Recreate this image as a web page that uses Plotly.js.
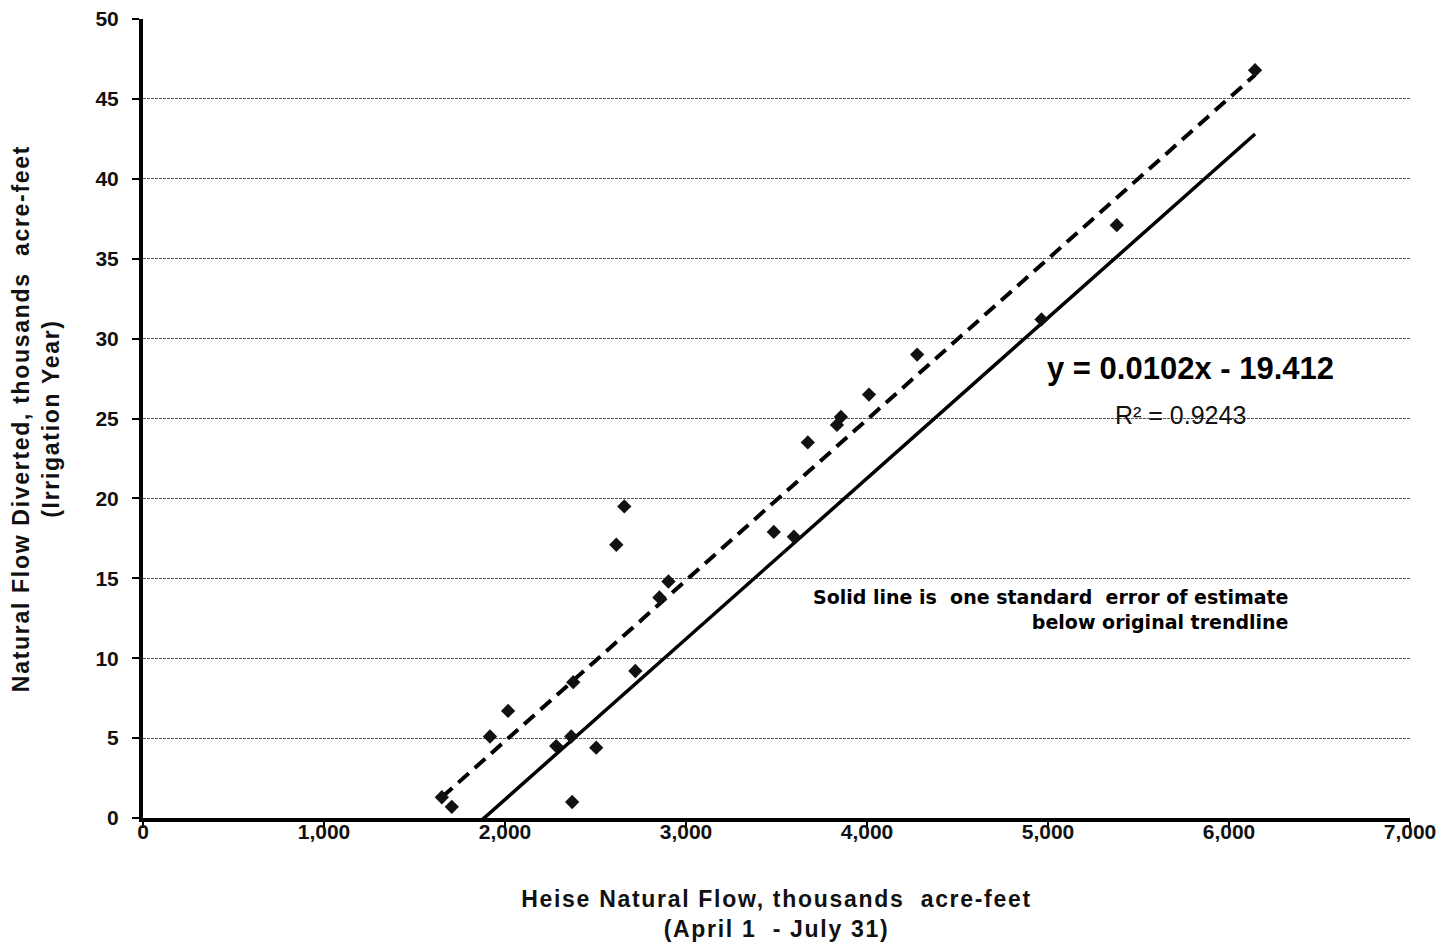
<!DOCTYPE html>
<html>
<head>
<meta charset="utf-8">
<script src="https://cdn.plot.ly/plotly-3.0.1.min.js"></script>
<style>
html,body{margin:0;padding:0;background:#fff;}
#chart{width:1448px;height:949px;}
text.xtitle, text.ytitle {letter-spacing: 1.7px;}
</style>
</head>
<body>
<div id="chart"></div>
<script>
// Observed data: Heise natural flow (x) vs natural flow diverted (y)
const heiseFlow = [1651, 1706, 1917, 2017, 2283, 2366, 2377, 2371, 2504, 2615, 2659, 2720, 2853, 2903, 3485, 3596, 3673, 3834, 3856, 4011, 4277, 4964, 5380, 6144];
const flowDiverted = [1.3, 0.7, 5.1, 6.7, 4.5, 5.1, 8.5, 1.0, 4.4, 17.1, 19.5, 9.2, 13.8, 14.8, 17.9, 17.6, 23.5, 24.6, 25.1, 26.5, 29.0, 31.2, 37.1, 46.8];

// Original trendline (dashed) endpoints
const trendX = [1651, 6144];
const trendY = [1.3, 46.5];
// One standard error below trendline (solid)
const lowerX = [1651, 6144];
const lowerY = [-2.35, 42.8];

const xTicks = [0, 1000, 2000, 3000, 4000, 5000, 6000, 7000];
const yTicks = [0, 5, 10, 15, 20, 25, 30, 35, 40, 45, 50];

const FONT = 'Liberation Sans, Arial, sans-serif';

const traces = [
  {x: trendX, y: trendY, mode: 'lines', type: 'scatter',
   line: {color: '#000', width: 4, dash: '14px,8px'}, hoverinfo: 'skip'},
  {x: lowerX, y: lowerY, mode: 'lines', type: 'scatter',
   line: {color: '#000', width: 3.5}, hoverinfo: 'skip'},
  {x: heiseFlow, y: flowDiverted, mode: 'markers', type: 'scatter',
   marker: {symbol: 'diamond', size: 11, color: '#111'}}
];

const layout = {
  width: 1448, height: 949,
  margin: {l: 143, r: 38, t: 19, b: 131},
  paper_bgcolor: '#fff', plot_bgcolor: '#fff',
  showlegend: false,
  font: {family: FONT, color: '#000', size: 18},
  xaxis: {
    range: [0, 7000], tickvals: xTicks, tickformat: ',d',
    showgrid: false, zeroline: false,
    showline: true, linecolor: '#000', linewidth: 4,
    ticks: 'outside', ticklen: 6, tickwidth: 2, tickcolor: '#000',
    tickfont: {family: FONT, size: 21, color: '#111', weight: 'bold'},
    ticklabelstandoff: -14,
    title: {text: 'Heise Natural Flow, thousands  acre-feet<br>(April 1  - July 31)',
            font: {family: FONT, size: 23, color: '#111', weight: 'bold'}, standoff: 50}
  },
  yaxis: {
    range: [0, 50], tickvals: yTicks,
    showgrid: true, gridcolor: '#555', gridwidth: 1, griddash: '3px,1px',
    zeroline: false,
    showline: true, linecolor: '#000', linewidth: 4,
    ticks: 'outside', ticklen: 7, tickwidth: 2, tickcolor: '#000',
    tickfont: {family: FONT, size: 21, color: '#111', weight: 'bold'},
    ticklabelstandoff: 9,
    title: {text: 'Natural Flow Diverted, thousands  acre-feet<br>(Irrigation Year)',
            font: {family: FONT, size: 23, color: '#111', weight: 'bold'}, standoff: 30}
  },
  annotations: [
    {x: 5790, y: 28.15, xref: 'x', yref: 'y', showarrow: false,
     text: '<b>y = 0.0102x - 19.412</b>', font: {family: FONT, size: 31, color: '#000'}},
    {x: 5730, y: 25.2, xref: 'x', yref: 'y', showarrow: false,
     text: 'R² = 0.9243', font: {family: FONT, size: 25, color: '#111'}},
    {x: 6343, y: 13.05, xref: 'x', yref: 'y', showarrow: false, xanchor: 'right', align: 'right',
     text: '<b>Solid line is  one standard  error of estimate<br>below original trendline</b>',
     font: {family: 'DejaVu Sans, Verdana, sans-serif', size: 19, color: '#000'}}
  ]
};

Plotly.newPlot('chart', traces, layout, {staticPlot: true, displayModeBar: false});
</script>
</body>
</html>
